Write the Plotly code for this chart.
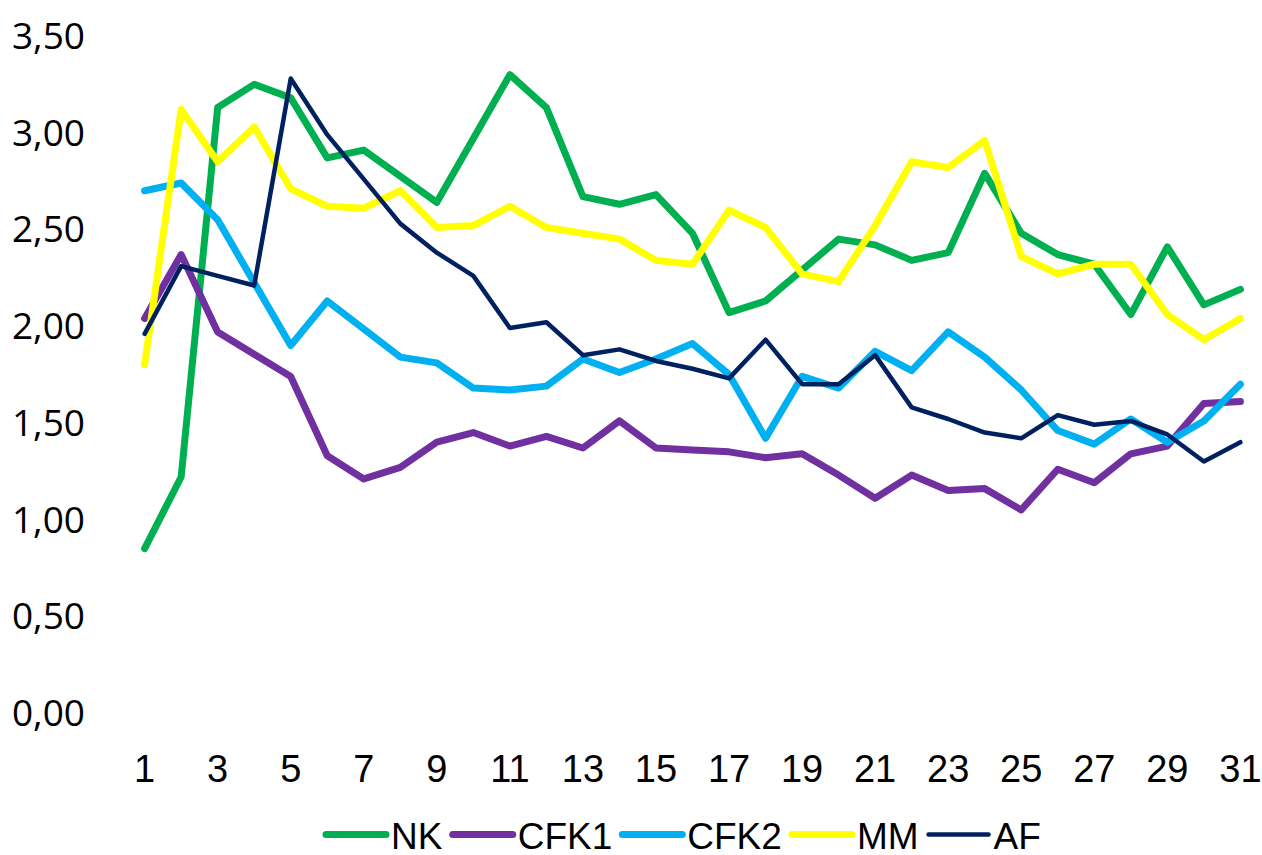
import plotly.graph_objects as go

days = list(range(1, 32))

nk = [0.85, 1.22, 3.13, 3.25, 3.18, 2.87, 2.91, 2.78, 2.64, 2.97, 3.30,
      3.13, 2.67, 2.63, 2.68, 2.48, 2.07, 2.13, 2.29, 2.45, 2.42,
      2.34, 2.38, 2.79, 2.48, 2.37, 2.32, 2.06, 2.41, 2.11, 2.19]
cfk1 = [2.04, 2.37, 1.97, 1.86, 1.74, 1.33, 1.21, 1.27, 1.40, 1.45, 1.38,
        1.43, 1.37, 1.51, 1.37, 1.36, 1.35, 1.32, 1.34, 1.23, 1.11,
        1.23, 1.15, 1.16, 1.05, 1.26, 1.19, 1.34, 1.38, 1.60, 1.61]
cfk2 = [2.70, 2.74, 2.55, 2.23, 1.90, 2.13, 1.98, 1.84, 1.81, 1.68, 1.67,
        1.69, 1.83, 1.76, 1.83, 1.91, 1.75, 1.42, 1.74, 1.68, 1.87,
        1.77, 1.97, 1.84, 1.67, 1.46, 1.39, 1.52, 1.40, 1.51, 1.70]
mm = [1.80, 3.12, 2.85, 3.03, 2.71, 2.62, 2.61, 2.70, 2.51, 2.52, 2.62,
      2.51, 2.48, 2.45, 2.34, 2.32, 2.60, 2.51, 2.27, 2.23, 2.52,
      2.85, 2.82, 2.96, 2.36, 2.27, 2.32, 2.32, 2.06, 1.93, 2.04]
af = [1.96, 2.31, 2.26, 2.21, 3.28, 2.99, 2.76, 2.53, 2.38, 2.26, 1.99,
      2.02, 1.85, 1.88, 1.82, 1.78, 1.73, 1.93, 1.70, 1.70, 1.85,
      1.58, 1.52, 1.45, 1.42, 1.54, 1.49, 1.51, 1.44, 1.30, 1.40]

series = [
    ("NK", nk, "#00B050", 7),
    ("CFK1", cfk1, "#7030A0", 7),
    ("CFK2", cfk2, "#00B0F0", 7),
    ("MM", mm, "#FFFF00", 7),
    ("AF", af, "#002060", 4.5),
]

narrow = "Liberation Sans Narrow, Liberation Sans, Arial, sans-serif"

fig = go.Figure()
for name, vals, color, w in series:
    fig.add_trace(go.Scatter(
        x=days, y=vals, name=name, mode="lines",
        line=dict(color=color, width=w),
    ))

fig.update_layout(
    width=1270, height=875,
    paper_bgcolor="white", plot_bgcolor="white",
    margin=dict(l=130, r=9, t=34, b=145),
    separators=",.",
    showlegend=True,
    legend=dict(
        orientation="h", x=0.492, xanchor="center", y=-0.18, yanchor="middle",
        font=dict(family=narrow, size=37, color="black"),
        itemwidth=60, tracegroupgap=0,
    ),
)
fig.update_xaxes(
    range=[0.6, 31.4], tickmode="linear", tick0=1, dtick=2,
    showgrid=False, zeroline=False, showline=False, ticks="",
    ticklabelstandoff=30,
    tickfont=dict(family=narrow, size=38, color="black"),
)
fig.update_yaxes(
    range=[0, 3.5], tickmode="linear", tick0=0, dtick=0.5, tickformat=".2f",
    showgrid=False, zeroline=False, showline=False, ticks="",
    ticklabelstandoff=44,
    tickfont=dict(family="Open Sans, DejaVu Sans, sans-serif", size=37, color="black"),
)

post = (
    "document.body.style.margin='0';document.body.style.overflow='hidden';"
    "document.querySelectorAll('.js-line').forEach(function(p){"
    "p.style.strokeLinejoin='round';p.style.strokeLinecap='round';});"
)

fig.write_html(
    "out.html",
    config={"displayModeBar": False},
    post_script=post,
)
